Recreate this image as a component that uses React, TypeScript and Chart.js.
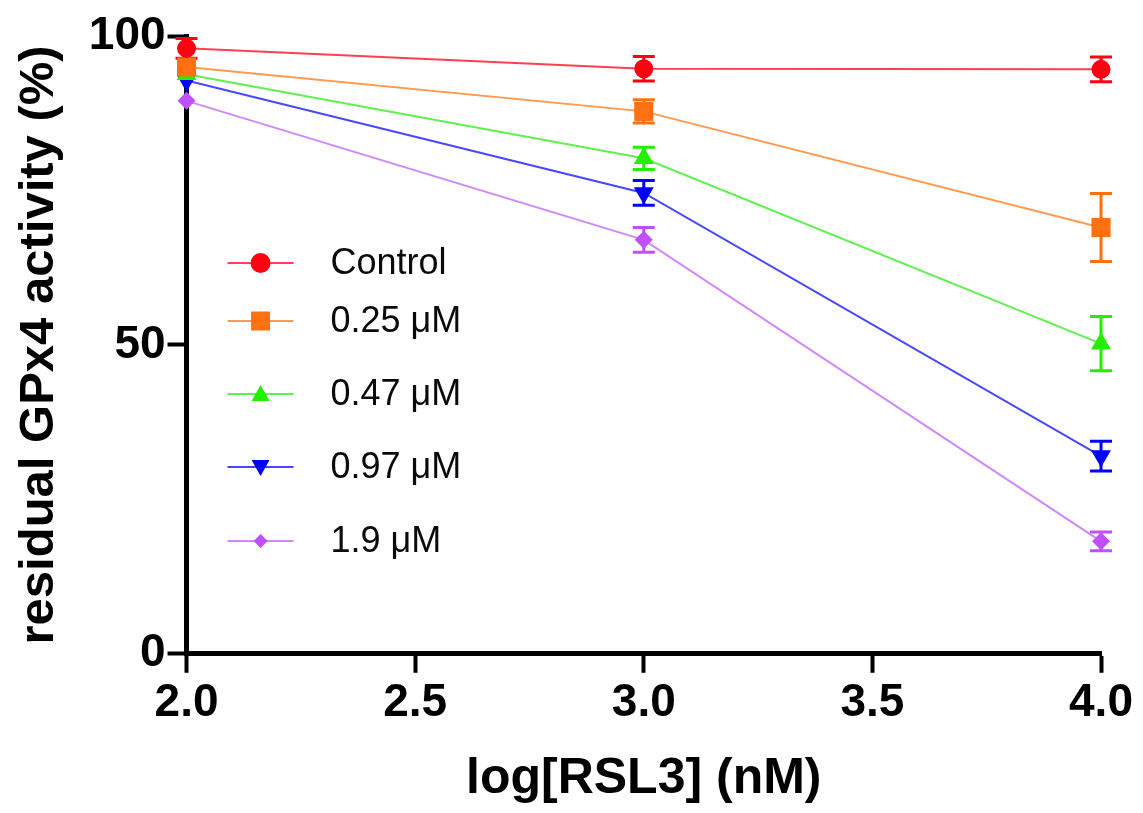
import React, { useEffect, useRef } from "react";
import { Chart, registerables } from "chart.js";

Chart.register(...registerables);

const xValues = [2, 3, 4];
const seriesLabels = ["Control", "0.25 μM", "0.47 μM", "0.97 μM", "1.9 μM"];
const controlValues = [98.0, 94.7, 94.6];
const controlErrors = [1.6, 2.0, 2.0];
const rsl025Values = [95.0, 87.8, 69.0];
const rsl025Errors = [0, 1.9, 5.5];
const rsl047Values = [93.8, 80.2, 50.2];
const rsl047Errors = [0, 1.8, 4.4];
const rsl097Values = [92.8, 74.6, 32.0];
const rsl097Errors = [0, 2.0, 2.4];
const rsl19Values = [89.5, 67.0, 18.2];
const rsl19Errors = [0, 2.0, 1.5];
const xTicks = [2.0, 2.5, 3.0, 3.5, 4.0];
const yTicks = [0, 50, 100];

const markerColors = ["#ff0010", "#ff7010", "#22f000", "#0000ff", "#c050ff"];
const lineColors = ["#ff4050", "#ff9a50", "#60f050", "#4848ff", "#d088ff"];
const pointStyles = ["circle", "rect", "triangle", "triangle", "rectRot"];
const pointRotations = [0, 0, 0, 180, 0];
const pointRadii = [9.5, 13.5, 11.5, 11.5, 9];

const allValues = [controlValues, rsl025Values, rsl047Values, rsl097Values, rsl19Values];
const allErrors = [controlErrors, rsl025Errors, rsl047Errors, rsl097Errors, rsl19Errors];

const FONT = '"Liberation Sans", Arial, sans-serif';

const errorBarPlugin = {
  id: "errorBars",
  beforeDatasetsDraw(chart: any) {
    const ctx = chart.ctx;
    const yScale = chart.scales.y;
    chart.data.datasets.forEach((ds: any, di: number) => {
      const meta = chart.getDatasetMeta(di);
      ctx.save();
      ctx.strokeStyle = markerColors[di];
      ctx.lineWidth = 3;
      meta.data.forEach((pt: any, i: number) => {
        const v = allValues[di][i];
        const e = allErrors[di][i];
        if (!e) return;
        const yTop = yScale.getPixelForValue(v + e);
        const yBot = yScale.getPixelForValue(v - e);
        const x = pt.x;
        const cap = 11;
        ctx.beginPath();
        ctx.moveTo(x, yTop);
        ctx.lineTo(x, yBot);
        ctx.moveTo(x - cap, yTop);
        ctx.lineTo(x + cap, yTop);
        ctx.moveTo(x - cap, yBot);
        ctx.lineTo(x + cap, yBot);
        ctx.stroke();
      });
      ctx.restore();
    });
  },
};

function drawMarker(ctx: CanvasRenderingContext2D, kind: number, x: number, y: number) {
  ctx.beginPath();
  if (kind === 0) {
    ctx.arc(x, y, 10, 0, Math.PI * 2);
  } else if (kind === 1) {
    ctx.rect(x - 9.5, y - 9.5, 19, 19);
  } else if (kind === 2) {
    ctx.moveTo(x, y - 9);
    ctx.lineTo(x + 9, y + 7);
    ctx.lineTo(x - 9, y + 7);
    ctx.closePath();
  } else if (kind === 3) {
    ctx.moveTo(x, y + 9);
    ctx.lineTo(x + 9, y - 7);
    ctx.lineTo(x - 9, y - 7);
    ctx.closePath();
  } else {
    ctx.moveTo(x, y - 7);
    ctx.lineTo(x + 7, y);
    ctx.lineTo(x, y + 7);
    ctx.lineTo(x - 7, y);
    ctx.closePath();
  }
  ctx.fill();
}

const insideLegendPlugin = {
  id: "insideLegend",
  afterDraw(chart: any) {
    const ctx = chart.ctx;
    const area = chart.chartArea;
    const rowOffsets = [227, 285, 358, 431, 505];
    ctx.save();
    seriesLabels.forEach((label, i) => {
      const y = area.top + rowOffsets[i];
      const x0 = area.left + 41;
      ctx.strokeStyle = lineColors[i];
      ctx.lineWidth = 2;
      ctx.beginPath();
      ctx.moveTo(x0, y);
      ctx.lineTo(x0 + 66, y);
      ctx.stroke();
      ctx.fillStyle = markerColors[i];
      drawMarker(ctx, i, x0 + 33, y);
      ctx.fillStyle = "#0a0a0a";
      ctx.font = '36px ' + FONT;
      ctx.textBaseline = "middle";
      ctx.textAlign = "left";
      ctx.fillText(label, x0 + 103, y + 1);
    });
    ctx.restore();
  },
};

export default function App() {
  const canvasRef = useRef<HTMLCanvasElement | null>(null);

  useEffect(() => {
    if (!canvasRef.current) return;
    const datasets = seriesLabels.map((label, i) => ({
      label,
      data: xValues.map((x, j) => ({ x, y: allValues[i][j] })),
      borderColor: lineColors[i],
      borderWidth: 2,
      backgroundColor: markerColors[i],
      pointBackgroundColor: markerColors[i],
      pointBorderColor: markerColors[i],
      pointBorderWidth: 0,
      pointStyle: pointStyles[i],
      pointRotation: pointRotations[i],
      pointRadius: pointRadii[i],
      pointHoverRadius: pointRadii[i],
      fill: false,
      tension: 0,
      clip: false as any,
    }));

    const chart = new Chart(canvasRef.current, {
      type: "line",
      data: { datasets },
      options: {
        animation: false,
        responsive: false,
        devicePixelRatio: 1,
        layout: { padding: { left: 10, top: 36, right: 42, bottom: 0 } },
        plugins: {
          legend: { display: false },
          tooltip: { enabled: false },
        },
        scales: {
          x: {
            type: "linear",
            min: 2,
            max: 4,
            afterBuildTicks: (scale: any) => {
              scale.ticks = xTicks.map((v) => ({ value: v }));
            },
            ticks: {
              color: "#000",
              padding: 3,
              font: { family: FONT, size: 46, weight: "bold" },
              callback: (v: any) => Number(v).toFixed(1),
              maxRotation: 0,
            },
            grid: {
              display: true,
              drawOnChartArea: false,
              drawTicks: true,
              tickLength: 19,
              tickWidth: 4,
              tickColor: "#000",
            },
            border: { display: true, color: "#000", width: 5 },
            title: {
              display: true,
              text: "log[RSL3] (nM)",
              color: "#000",
              padding: { top: 15, bottom: 4 },
              font: { family: FONT, size: 50, weight: "bold" },
            },
          },
          y: {
            type: "linear",
            min: 0,
            max: 100,
            afterBuildTicks: (scale: any) => {
              scale.ticks = yTicks.map((v) => ({ value: v }));
            },
            ticks: {
              color: "#000",
              padding: 2,
              font: { family: FONT, size: 46, weight: "bold" },
            },
            grid: {
              display: true,
              drawOnChartArea: false,
              drawTicks: true,
              tickLength: 19,
              tickWidth: 4,
              tickColor: "#000",
            },
            border: { display: true, color: "#000", width: 5 },
            title: {
              display: true,
              text: "residual GPx4 activity (%)",
              color: "#000",
              padding: { top: 0, bottom: 18 },
              font: { family: FONT, size: 49, weight: "bold" },
            },
          },
        },
      },
      plugins: [errorBarPlugin, insideLegendPlugin],
    });
    return () => chart.destroy();
  }, []);

  return (
    <div style={{ position: "absolute", left: 0, top: 0, width: 1143, height: 813, background: "#fff" }}>
      <canvas ref={canvasRef} width={1143} height={813} />
    </div>
  );
}
